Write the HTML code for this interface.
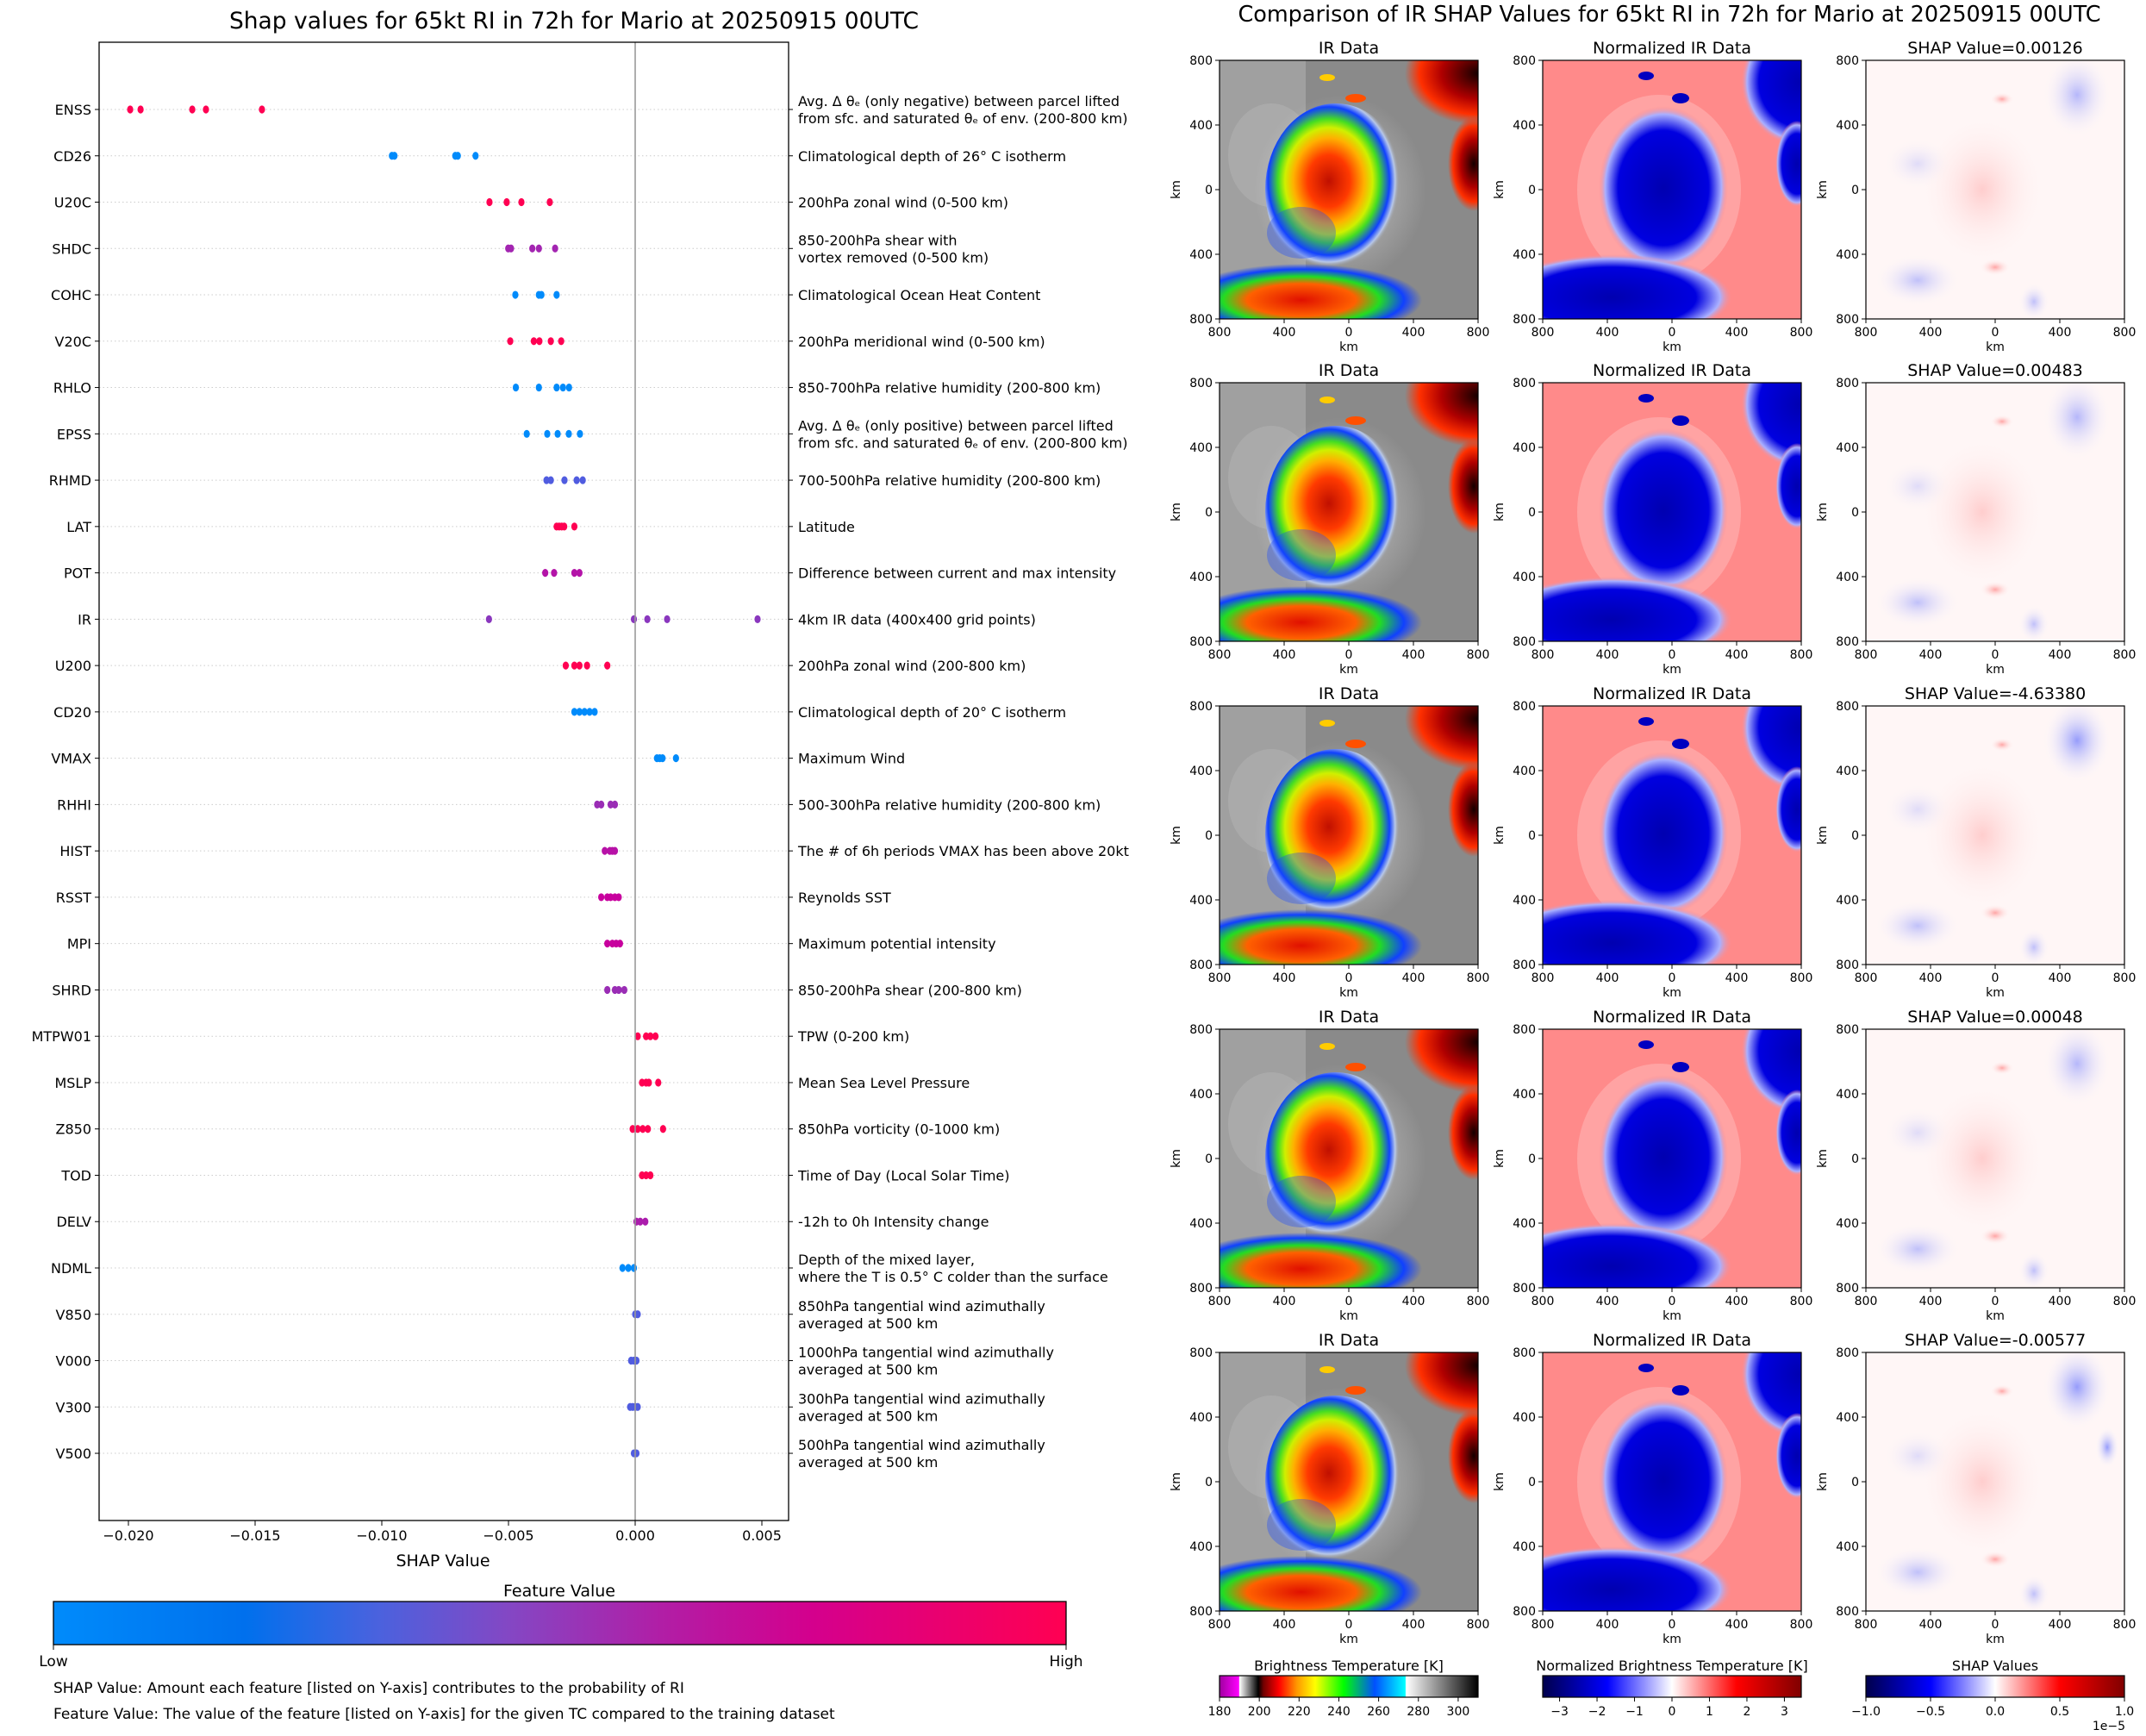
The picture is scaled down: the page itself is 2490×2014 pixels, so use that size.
<!DOCTYPE html>
<html><head><meta charset="utf-8"><style>
html,body{margin:0;padding:0;background:#fff;}
svg text{font-family:"DejaVu Sans","Liberation Sans",sans-serif;fill:#000;}
</style></head><body>
<svg id="fig" width="2490" height="2009" xmlns="http://www.w3.org/2000/svg">
<defs>
<linearGradient id="fvGrad" x1="0" x2="1" y1="0" y2="0">
<stop offset="0" stop-color="#008bfb"/><stop offset="0.19" stop-color="#0070ed"/><stop offset="0.32" stop-color="#4a62de"/><stop offset="0.45" stop-color="#8447c4"/><stop offset="0.6" stop-color="#b11ea6"/><stop offset="0.75" stop-color="#d4008d"/><stop offset="1" stop-color="#ff0052"/>
</linearGradient>
<linearGradient id="irGrad" x1="0" x2="1">
<stop offset="0" stop-color="#a000a0"/><stop offset="0.075" stop-color="#ff00ff"/><stop offset="0.077" stop-color="#ffffff"/><stop offset="0.15" stop-color="#000"/><stop offset="0.17" stop-color="#700000"/><stop offset="0.23" stop-color="#ff0000"/><stop offset="0.3" stop-color="#ff9900"/><stop offset="0.37" stop-color="#ffff00"/><stop offset="0.48" stop-color="#00ff00"/><stop offset="0.6" stop-color="#0050ff"/><stop offset="0.718" stop-color="#00ffff"/><stop offset="0.722" stop-color="#ffffff"/><stop offset="1" stop-color="#000"/>
</linearGradient>
<linearGradient id="seis" x1="0" x2="1">
<stop offset="0" stop-color="#00004c"/><stop offset="0.25" stop-color="#0000ff"/><stop offset="0.5" stop-color="#ffffff"/><stop offset="0.75" stop-color="#ff0000"/><stop offset="1" stop-color="#800000"/>
</linearGradient>
<radialGradient id="stormIR" cx="0.45" cy="0.45">
<stop offset="0" stop-color="#c01000"/><stop offset="0.3" stop-color="#ff3a00"/><stop offset="0.5" stop-color="#ffb000"/><stop offset="0.62" stop-color="#cff000"/><stop offset="0.72" stop-color="#44dd22"/><stop offset="0.86" stop-color="#1040ff"/><stop offset="0.94" stop-color="#b8c8e8"/><stop offset="1" stop-color="#9a9a9a" stop-opacity="0"/>
</radialGradient>
<radialGradient id="bandIR">
<stop offset="0" stop-color="#e01000"/><stop offset="0.45" stop-color="#ff6000"/><stop offset="0.65" stop-color="#22dd22"/><stop offset="0.85" stop-color="#1040ff"/><stop offset="1" stop-color="#1040ff" stop-opacity="0"/>
</radialGradient>
<radialGradient id="cornerIR">
<stop offset="0" stop-color="#150000"/><stop offset="0.5" stop-color="#b00000"/><stop offset="0.8" stop-color="#ff3000"/><stop offset="1" stop-color="#ff3000" stop-opacity="0"/>
</radialGradient>
<radialGradient id="blueN">
<stop offset="0" stop-color="#0000b0"/><stop offset="0.7" stop-color="#0000e0"/><stop offset="0.9" stop-color="#aab0ff"/><stop offset="1" stop-color="#ff8a8a" stop-opacity="0"/>
</radialGradient>
<radialGradient id="bS"><stop offset="0" stop-color="#5060ff" stop-opacity="0.6"/><stop offset="1" stop-color="#ffffff" stop-opacity="0"/></radialGradient>
<radialGradient id="rS"><stop offset="0" stop-color="#ff4040" stop-opacity="0.45"/><stop offset="1" stop-color="#ffffff" stop-opacity="0"/></radialGradient>
<radialGradient id="wS"><stop offset="0" stop-color="#ffffff" stop-opacity="0.5"/><stop offset="1" stop-color="#ffffff" stop-opacity="0"/></radialGradient>
</defs>
<g id="left"></g>
<g id="right"></g>
</svg>
<script>
// ---- summary plot data ----
const features = ["ENSS","CD26","U20C","SHDC","COHC","V20C","RHLO","EPSS","RHMD","LAT","POT","IR","U200","CD20","VMAX","RHHI","HIST","RSST","MPI","SHRD","MTPW01","MSLP","Z850","TOD","DELV","NDML","V850","V000","V300","V500"];
const descriptions = [
 ["Avg. Δ θₑ (only negative) between parcel lifted","from sfc. and saturated θₑ of env. (200-800 km)"],
 ["Climatological depth of 26° C isotherm"],
 ["200hPa zonal wind (0-500 km)"],
 ["850-200hPa shear with","vortex removed (0-500 km)"],
 ["Climatological Ocean Heat Content"],
 ["200hPa meridional wind (0-500 km)"],
 ["850-700hPa relative humidity (200-800 km)"],
 ["Avg. Δ θₑ (only positive) between parcel lifted","from sfc. and saturated θₑ of env. (200-800 km)"],
 ["700-500hPa relative humidity (200-800 km)"],
 ["Latitude"],
 ["Difference between current and max intensity"],
 ["4km IR data (400x400 grid points)"],
 ["200hPa zonal wind (200-800 km)"],
 ["Climatological depth of 20° C isotherm"],
 ["Maximum Wind"],
 ["500-300hPa relative humidity (200-800 km)"],
 ["The # of 6h periods VMAX has been above 20kt"],
 ["Reynolds SST"],
 ["Maximum potential intensity"],
 ["850-200hPa shear (200-800 km)"],
 ["TPW (0-200 km)"],
 ["Mean Sea Level Pressure"],
 ["850hPa vorticity (0-1000 km)"],
 ["Time of Day (Local Solar Time)"],
 ["-12h to 0h Intensity change"],
 ["Depth of the mixed layer,","where the T is 0.5° C colder than the surface"],
 ["850hPa tangential wind azimuthally","averaged at 500 km"],
 ["1000hPa tangential wind azimuthally","averaged at 500 km"],
 ["300hPa tangential wind azimuthally","averaged at 500 km"],
 ["500hPa tangential wind azimuthally","averaged at 500 km"]
];
const shapValues = [
 [-0.01993,-0.01952,-0.01748,-0.01694,-0.01473],
 [-0.0096,-0.0095,-0.0071,-0.0070,-0.0063],
 [-0.00575,-0.00507,-0.00449,-0.00337],
 [-0.00501,-0.0049,-0.00406,-0.0038,-0.00316],
 [-0.00473,-0.0038,-0.0037,-0.0031],
 [-0.00493,-0.004,-0.00378,-0.00333,-0.00292],
 [-0.00471,-0.0038,-0.0031,-0.00285,-0.00261],
 [-0.00428,-0.00347,-0.00306,-0.00262,-0.00218],
 [-0.0035,-0.00333,-0.00279,-0.00231,-0.00207],
 [-0.0031,-0.003,-0.0029,-0.0028,-0.0024],
 [-0.00355,-0.0032,-0.0024,-0.0022],
 [-0.00577,-0.00005,0.00048,0.00126,0.00483],
 [-0.00274,-0.0024,-0.0022,-0.0019,-0.0011],
 [-0.0024,-0.0022,-0.002,-0.0018,-0.0016],
 [0.00086,0.00097,0.00108,0.00161],
 [-0.0015,-0.00134,-0.00097,-0.0008],
 [-0.0012,-0.001,-0.0009,-0.0008],
 [-0.00134,-0.0011,-0.00097,-0.0008,-0.00065],
 [-0.0011,-0.0009,-0.00075,-0.0006],
 [-0.0011,-0.0008,-0.00065,-0.00043],
 [0.0001,0.00043,0.0006,0.0008],
 [0.00027,0.00043,0.00054,0.00091],
 [-0.0001,0.0001,0.0003,0.0005,0.0011],
 [0.00027,0.00043,0.0006],
 [0.00005,0.0002,0.0004],
 [-0.0005,-0.00027,-0.00005],
 [0,0.0001],
 [-0.00016,-0.00005,0.00005],
 [-0.0002,-0.0001,0,0.0001],
 [-0.00005,0.00005]
];
const featureLevels = [1,0,1,0.5,0,1,0,0,0.22,1,0.6,0.4,1,0,0,0.45,0.62,0.72,0.72,0.45,1,1,1,1,0.55,0,0.22,0.22,0.22,0.22];
const xTicks = [-0.020,-0.015,-0.010,-0.005,0.000,0.005];
const xTickLabels = ["\u22120.020","\u22120.015","\u22120.010","\u22120.005","0.000","0.005"];

const NS="http://www.w3.org/2000/svg";
function mk(tag, attrs, parent, txt){const e=document.createElementNS(NS,tag);for(const k in attrs)e.setAttribute(k,attrs[k]);if(txt!==undefined)e.textContent=txt;parent.appendChild(e);return e;}
const L=document.getElementById('left');
const axL=115, axR=915, axT=49, axB=1764;
const xScale=v=>737+(v)*29400;
const yScale=i=>127+i*53.76;
function lvlColor(t){
  const st=[[0,[0,139,251]],[0.22,[80,92,224]],[0.45,[154,45,181]],[0.72,[200,0,158]],[1,[255,0,82]]];
  for(let i=1;i<st.length;i++){if(t<=st[i][0]){const a=st[i-1],b=st[i],f=(t-a[0])/(b[0]-a[0]);return 'rgb('+a[1].map((c,j)=>Math.round(c+(b[1][j]-c)*f)).join(',')+')';}}
  return 'rgb(255,0,82)';
}
let t=mk('text',{x:666,y:33,'font-size':26.5,'text-anchor':'middle'},L,"Shap values for 65kt RI in 72h for Mario at 20250915 00UTC");

features.forEach((f,i)=>{
  const y=yScale(i);
  const g=mk('line',{x1:axL,x2:axR,y1:y,y2:y,stroke:'#ccc','stroke-width':1,'stroke-dasharray':'1.5,3'},L);
  
  mk('line',{x1:axL-5,x2:axL,y1:y,y2:y,stroke:'#000'},L);
  mk('line',{x1:axR,x2:axR+5,y1:y,y2:y,stroke:'#000'},L);
  const lb=mk('text',{x:axL-9,y:y+6,'font-size':16,'text-anchor':'end'},L,f);
  
  const d=descriptions[i];
  d.forEach((line,j)=>{
    const yy = d.length===1 ? y+6 : y-4+j*20;
    const dt=mk('text',{x:926,y:yy,'font-size':16},L,line);
    
  });
  const col=lvlColor(featureLevels[i]);
  shapValues[i].forEach(v=>{
    const c=mk('ellipse',{cx:xScale(v),cy:y,rx:3.6,ry:4.6,fill:col},L);
    
    
  });
});
const zl=mk('line',{x1:xScale(0),x2:xScale(0),y1:axT,y2:axB,stroke:'#999','stroke-width':1.6},L);

const fr=mk('rect',{x:axL,y:axT,width:axR-axL,height:axB-axT,fill:'none',stroke:'#000','stroke-width':1.3},L);

xTicks.forEach((v,k)=>{
  const x=xScale(v);
  mk('line',{x1:x,x2:x,y1:axB,y2:axB+6,stroke:'#000'},L);
  const tl=mk('text',{x:x,y:1787,'font-size':16,'text-anchor':'middle'},L,xTickLabels[k]);
  
});
t=mk('text',{x:514,y:1817,'font-size':19,'text-anchor':'middle'},L,"SHAP Value");

t=mk('text',{x:649,y:1852,'font-size':19,'text-anchor':'middle'},L,"Feature Value");

t=mk('rect',{x:62,y:1858,width:1175,height:50,fill:'url(#fvGrad)',stroke:'#000','stroke-width':1.3},L);

mk('line',{x1:62,x2:62,y1:1908,y2:1914,stroke:'#000'},L);mk('line',{x1:1237,x2:1237,y1:1908,y2:1914,stroke:'#000'},L);
t=mk('text',{x:62,y:1933,'font-size':17,'text-anchor':'middle'},L,"Low");
t=mk('text',{x:1237,y:1933,'font-size':17,'text-anchor':'middle'},L,"High");
t=mk('text',{x:62,y:1964,'font-size':17},L,"SHAP Value: Amount each feature [listed on Y-axis] contributes to the probability of RI");

t=mk('text',{x:62,y:1994,'font-size':17},L,"Feature Value: The value of the feature [listed on Y-axis] for the given TC compared to the training dataset");


// ---- right panels ----
const shapTitles=["0.00126","0.00483","-4.63380","0.00048","-0.00577"];
const R=document.getElementById('right');
t=mk('text',{x:1937,y:25,'font-size':25.5,'text-anchor':'middle'},R,"Comparison of IR SHAP Values for 65kt RI in 72h for Mario at 20250915 00UTC");

const colX=[1415,1790,2165], rowY=[70,444,819,1194,1569], P=300;
let cid=0;
function panel(type,x0,y0,row){
  const id='c'+(cid++);
  const cp=mk('clipPath',{id:id},R);mk('rect',{x:x0,y:y0,width:P,height:P},cp);
  const g=mk('g',{'clip-path':'url(#'+id+')'},R);
  if(type===0){
    mk('rect',{x:x0,y:y0,width:P,height:P,fill:'#8a8a8a'},g);
    mk('rect',{x:x0,y:y0,width:100,height:P,fill:'#a0a0a0'},g);
    mk('ellipse',{cx:x0+60,cy:y0+110,rx:50,ry:60,fill:'#b0b0b0',opacity:0.6},g);
    mk('ellipse',{cx:x0+140,cy:y0+150,rx:100,ry:110,fill:'url(#wS)'},g);
    mk('ellipse',{cx:x0+135,cy:y0+150,rx:82,ry:100,fill:'url(#stormIR)'},g);
    mk('ellipse',{cx:x0+95,cy:y0+200,rx:40,ry:30,fill:'#1848ff',opacity:0.35},g);
    mk('ellipse',{cx:x0+95,cy:y0+278,rx:140,ry:42,fill:'url(#bandIR)'},g);
    mk('ellipse',{cx:x0+300,cy:y0+15,rx:85,ry:60,fill:'url(#cornerIR)'},g);
    mk('ellipse',{cx:x0+295,cy:y0+120,rx:30,ry:55,fill:'url(#cornerIR)'},g);
    mk('ellipse',{cx:x0+158,cy:y0+44,rx:12,ry:5,fill:'#ff5000'},g);
    mk('ellipse',{cx:x0+125,cy:y0+20,rx:9,ry:4,fill:'#ffcc00'},g);
  } else if(type===1){
    mk('rect',{x:x0,y:y0,width:P,height:P,fill:'#ff8a8a'},g);
    mk('ellipse',{cx:x0+135,cy:y0+150,rx:95,ry:110,fill:'#ffc0c0',opacity:0.45},g);
    mk('ellipse',{cx:x0+140,cy:y0+148,rx:75,ry:95,fill:'url(#blueN)'},g);
    mk('ellipse',{cx:x0+80,cy:y0+275,rx:140,ry:50,fill:'url(#blueN)'},g);
    mk('ellipse',{cx:x0+300,cy:y0+25,rx:70,ry:75,fill:'url(#blueN)'},g);
    mk('ellipse',{cx:x0+295,cy:y0+120,rx:25,ry:50,fill:'url(#blueN)'},g);
    mk('ellipse',{cx:x0+160,cy:y0+44,rx:10,ry:6,fill:'#0000c0'},g);
    mk('ellipse',{cx:x0+120,cy:y0+18,rx:9,ry:5,fill:'#0000c0'},g);
  } else {
    mk('rect',{x:x0,y:y0,width:P,height:P,fill:'#fff6f6'},g);
    mk('ellipse',{cx:x0+245,cy:y0+40,rx:40,ry:50,fill:'url(#bS)',opacity:row===2||row===4?1:0.7},g);
    mk('ellipse',{cx:x0+60,cy:y0+255,rx:50,ry:30,fill:'url(#bS)',opacity:0.6},g);
    mk('ellipse',{cx:x0+195,cy:y0+280,rx:18,ry:22,fill:'url(#bS)',opacity:0.6},g);
    mk('ellipse',{cx:x0+60,cy:y0+120,rx:40,ry:30,fill:'url(#bS)',opacity:0.3},g);
    mk('ellipse',{cx:x0+135,cy:y0+150,rx:75,ry:90,fill:'url(#rS)',opacity:0.5},g);
    mk('ellipse',{cx:x0+158,cy:y0+45,rx:14,ry:8,fill:'url(#rS)'},g);
    mk('ellipse',{cx:x0+150,cy:y0+240,rx:18,ry:10,fill:'url(#rS)'},g);
    if(row===4) mk('ellipse',{cx:x0+280,cy:y0+110,rx:14,ry:24,fill:'url(#bS)'},g);
  }
  
  
  mk('rect',{x:x0,y:y0,width:P,height:P,fill:'none',stroke:'#000','stroke-width':1.2},R);
  const tt=mk('text',{x:x0+P/2,y:y0-8,'font-size':19,'text-anchor':'middle'},R,["IR Data","Normalized IR Data","SHAP Value="+shapTitles[row]][type]);
  
  const labs=["800","400","0","400","800"];
  labs.forEach((l,k)=>{
    const xx=x0+k*75, yy=y0+k*75;
    mk('line',{x1:xx,x2:xx,y1:y0+P,y2:y0+P+5,stroke:'#000'},R);
    mk('text',{x:xx,y:y0+P+20,'font-size':14,'text-anchor':'middle'},R,l);
    mk('line',{x1:x0-5,x2:x0,y1:yy,y2:yy,stroke:'#000'},R);
    mk('text',{x:x0-8,y:yy+5,'font-size':14,'text-anchor':'end'},R,l);
  });
  mk('text',{x:x0+P/2,y:y0+P+37,'font-size':14,'text-anchor':'middle'},R,"km");
  mk('text',{x:0,y:0,'font-size':14,'text-anchor':'middle',transform:'translate('+(x0-46)+','+(y0+P/2)+') rotate(-90)'},R,"km");
}
rowY.forEach((y,r)=>colX.forEach((x,c)=>panel(c,x,y,r)));

// colorbars
const irTicks=[180,200,220,240,260,280,300];
const normTicks=[-3,-2,-1,0,1,2,3];
const shapTicks=[-1.0,-0.5,0.0,0.5,1.0];
function cbar(x0,title,fill,ticks,lo,hi,fmt,name){
  let e=mk('text',{x:x0+150,y:1938,'font-size':16,'text-anchor':'middle'},R,title);
  
  e=mk('rect',{x:x0,y:1944,width:300,height:25,fill:fill,stroke:'#000','stroke-width':1.2},R);
  
  ticks.forEach(v=>{const x=x0+(v-lo)/(hi-lo)*300;
    mk('line',{x1:x,x2:x,y1:1969,y2:1974,stroke:'#000'},R);
    mk('text',{x:x,y:1990,'font-size':14,'text-anchor':'middle'},R,fmt(v));});
}
cbar(1415,"Brightness Temperature [K]","url(#irGrad)",irTicks,180,310,v=>String(v),'brightness-colorbar');
cbar(1790,"Normalized Brightness Temperature [K]","url(#seis)",normTicks,-3.45,3.45,v=>(v<0?'\u2212'+(-v):String(v)),'normalized-colorbar');
cbar(2165,"SHAP Values","url(#seis)",shapTicks,-1,1,v=>(v<0?'\u2212'+(-v).toFixed(1):v.toFixed(1)),'shap-colorbar');
t=mk('text',{x:2466,y:2007,'font-size':14,'text-anchor':'end'},R,"1e\u22125");

</script>
</body></html>
